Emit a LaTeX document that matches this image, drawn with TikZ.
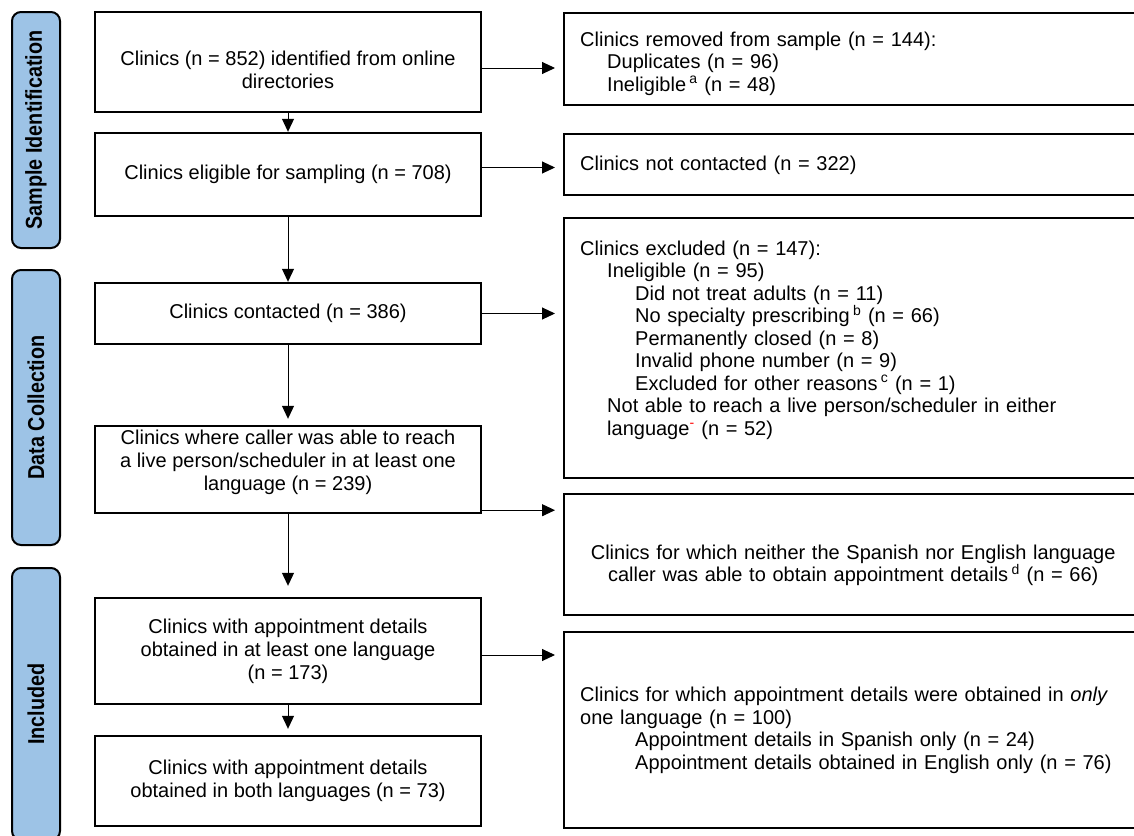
\documentclass[tikz,border=0pt]{standalone}
\usepackage{fontspec}
\setmainfont{Liberation Sans}
\newfontfamily\phasefont[FakeStretch=0.86]{Liberation Sans}
\usetikzlibrary{arrows.meta,positioning}
\definecolor{phaseblue}{HTML}{9DC3E6}

\begin{document}
\begin{tikzpicture}[x=1pt,y=-1pt,
  box/.style={draw,line width=2.4pt,minimum width=386pt,align=center,
              font=\fontsize{20}{23}\selectfont,inner sep=4pt},
  side/.style={draw,line width=2.4pt,minimum width=600pt,anchor=north west,
               align=left,text width=568pt,inner xsep=16pt,text height=15pt,
               font=\fontsize{20}{22.5}\selectfont},
  phase/.style={draw,line width=2pt,rounded corners=9pt,fill=phaseblue,
                minimum height=48pt,rotate=90,
                font=\phasefont\bfseries\fontsize{23}{26}\selectfont},
  arr/.style={-{Triangle[length=13pt,width=12pt]},line width=1pt},
]
  \useasboundingbox (0,0) rectangle (1134,835);
  \clip (0,0) rectangle (1134,835);

  \node[phase,minimum width=236pt] (sampid) at (36,130) {Sample Identification};
  \node[phase,minimum width=275pt] (datacol) at (36,407.5) {Data Collection};
  \node[phase,minimum width=272pt] (incl) at (36,704) {Included};

  \node[box,minimum height=100pt,text height=57pt,text depth=5pt] (ident) at (288,62)
    {Clinics (n = 852) identified from online\\directories};
  \node[box,minimum height=83pt] (elig) at (288,174.5)
    {Clinics eligible for sampling (n = 708)};
  \node[box,minimum height=61pt] (contact) at (288,313.5)
    {Clinics contacted (n = 386)};
  \node[box,minimum height=87pt,text height=46pt,text depth=5pt] (reach) at (288,469.5)
    {Clinics where caller was able to reach\\a live person/scheduler in at least one\\language (n = 239)};
  \node[box,minimum height=106pt] (anyone) at (288,651)
    {Clinics with appointment details\\obtained in at least one language\\(n = 173)};
  \node[box,minimum height=90pt] (both) at (288,781)
    {Clinics with appointment details\\obtained in both languages (n = 73)};

  \node[side,minimum height=92pt,text depth=41pt] (removed) at (563,12)
    {Clinics removed from sample (n = 144):\\
     \hspace*{27pt}Duplicates (n = 96)\\
     \hspace*{27pt}Ineligible\,\textsuperscript{a} (n = 48)};
  \node[side,minimum height=61pt] (notcont) at (563,133)
    {Clinics not contacted (n = 322)};
  \node[side,minimum height=260pt,text depth=201pt] (excl) at (563,217)
    {Clinics excluded (n = 147):\\
     \hspace*{27pt}Ineligible (n = 95)\\
     \hspace*{55pt}Did not treat adults (n = 11)\\
     \hspace*{55pt}No specialty prescribing\,\textsuperscript{b} (n = 66)\\
     \hspace*{55pt}Permanently closed (n = 8)\\
     \hspace*{55pt}Invalid phone number (n = 9)\\
     \hspace*{55pt}Excluded for other reasons\,\textsuperscript{c} (n = 1)\\
     \hspace*{27pt}Not able to reach a live person/scheduler in either\\
     \hspace*{27pt}language\textsuperscript{\textcolor{red}{-}} (n = 52)};
  \node[side,minimum height=121pt,text depth=6pt] (neither) at (563,493)
    {\parbox[t]{546pt}{\centering Clinics for which neither the Spanish nor English language\\
     caller was able to obtain appointment details\,\textsuperscript{d} (n = 66)}};
  \node[side,minimum height=196pt] (onlyone) at (563,631)
    {Clinics for which appointment details were obtained in \emph{only}\\
     one language (n = 100)\\
     \hspace*{55pt}Appointment details in Spanish only (n = 24)\\
     \hspace*{55pt}Appointment details obtained in English only (n = 76)};

  \draw[arr] (ident) -- (elig);
  \draw[arr] (elig) -- (contact);
  \draw[arr,shorten >=6pt] (contact) -- (reach);
  \draw[arr,shorten >=11pt] (reach) -- (anyone);
  \draw[arr,shorten >=6pt] (anyone) -- (both);

  \coordinate (out1) at ([yshift=-6pt]ident.east);
  \coordinate (out2) at ([yshift=7pt]elig.east);
  \coordinate (out3) at (contact.east);
  \coordinate (out4) at ([yshift=4pt]reach.south east);
  \coordinate (out5) at ([yshift=-4pt]anyone.east);
  \foreach \s/\t in {out1/removed,out2/notcont,out3/excl,out4/neither,out5/onlyone}
    \draw[arr,shorten >=8pt] (\s) -- (\s -| \t.west);
\end{tikzpicture}
\end{document}
